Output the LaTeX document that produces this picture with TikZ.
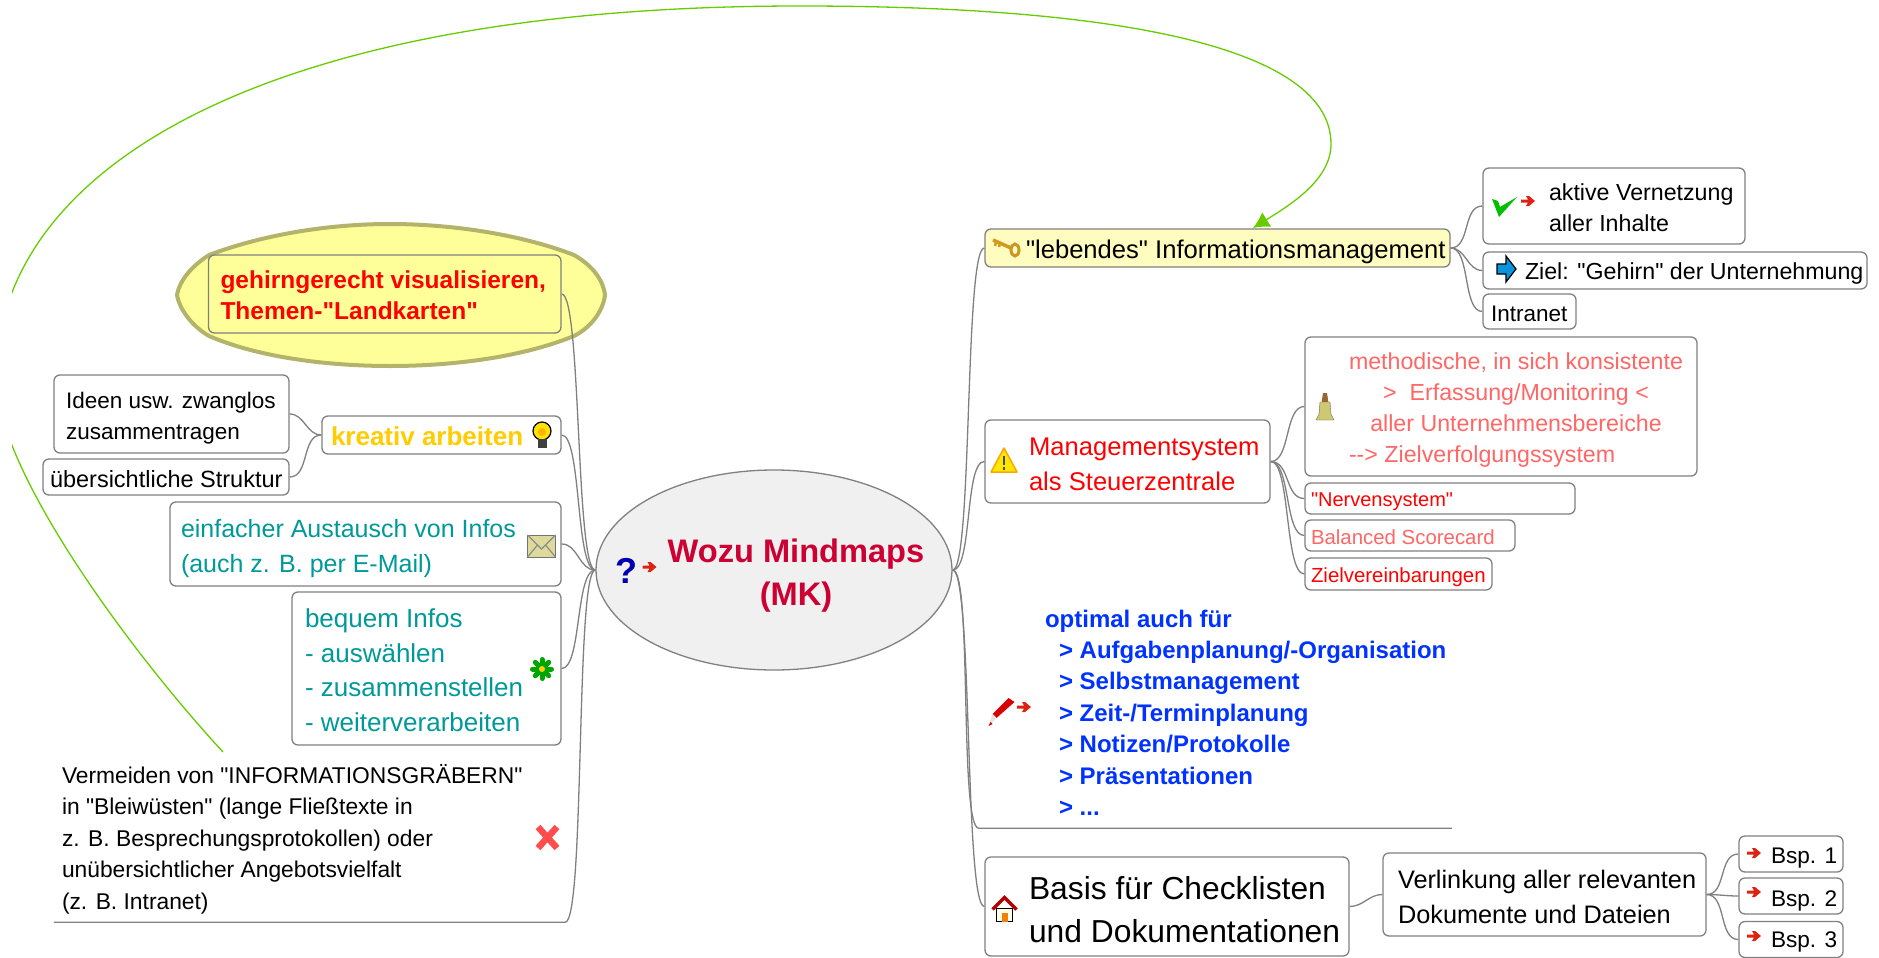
\documentclass[tikz,border=0pt]{standalone}
\usepackage{fontspec}
\setmainfont[Ligatures=TeXOff]{Liberation Sans}
\usetikzlibrary{arrows.meta}
\usetikzlibrary{shapes.geometric}

\definecolor{linegray}{HTML}{808080}
\definecolor{arcgreen}{HTML}{66CC00}
\definecolor{cloudfill}{HTML}{FFFF99}
\definecolor{cloudline}{HTML}{B3B36B}
\definecolor{tealtext}{HTML}{009999}
\definecolor{softred}{HTML}{FF6666}
\definecolor{boldblue}{HTML}{0033FF}
\definecolor{rootred}{HTML}{CC0033}
\definecolor{arrowred}{HTML}{DD2211}
\definecolor{keygold}{HTML}{D09A20}

% fixed width box text: [drop], width, left pad, lines
\newcommand{\boxtext}[4][4]{\makebox[#2pt][l]{\hspace*{#3pt}\raisebox{-#1pt}[\height][\depth]{\begin{tabular}[c]{@{}l@{}}#4\end{tabular}}}}

\tikzset{
  fz/.style 2 args={font=\fontsize{#1}{#2}\selectfont},
  fzb/.style 2 args={font=\fontsize{#1}{#2}\selectfont\bfseries},
  nobx/.style={inner sep=0pt,text=black},
  bx/.style={nobx,draw=linegray,line width=1.3pt,rounded corners=6pt,fill=white},
  branch/.style={draw=linegray,line width=1.3pt},
  bowr/.style={out=0,in=180,max distance=20pt},
  bowl/.style={out=180,in=0,max distance=20pt},
  redarrow/.pic={\fill[arrowred] (-7,-1.5)--(0,-1.5)--(-2,-5)--(1,-5)--(7,0)--(1,5)--(-2,5)--(0,1.5)--(-7,1.5)--cycle;},
  checkicon/.pic={\fill[green!75!black] (-12,-8)--(-6,-6)--(-4,0)--(13,-10)--(-5,10)--cycle;},
  bluearrow/.pic={\draw[fill=cyan!80!blue,line width=1.2pt] (-9,-5)--(0,-5)--(0,-13)--(10,0)--(0,13)--(0,5)--(-9,5)--cycle;},
  keyicon/.pic={
    \draw[color=keygold,line width=3.5pt] (-12,-7)--(6,1);
    \draw[color=keygold,line width=2.5pt] (-9,-5)--(-10,-1) (-5,-4)--(-6,0);
    \draw[color=keygold!80!brown,line width=3pt] (10,3) ellipse (4 and 6);},
  warnicon/.pic={
    \draw[fill=yellow!90!orange,draw=orange!70!yellow,line width=1.5pt,line join=round] (0,-14)--(13,10)--(-13,10)--cycle;
    \draw[line width=2pt,color=black!70] (0,-6)--(0,3) (0,5)--(0,7.5);},
  bellicon/.pic={
    \fill[brown!80!black] (-2,-13)--(2,-13)--(3.5,-3)--(-3.5,-3)--cycle;
    \draw[fill=olive!45!white,draw=black!60] (-5,-4)--(5,-4)--(6,8)--(9,14)--(-9,14)--(-6,8)--cycle;},
  penicon/.pic={
    \fill[red!85!black] (7,-14)--(13,-10)--(-5,6)--(-9,2)--cycle;
    \fill[white!80!gray] (-9,2)--(-5,6)--(-13,14)--cycle;
    \fill[red!85!black] (-11,10)--(-9,12)--(-13,14)--cycle;},
  houseicon/.pic={
    \draw[fill=yellow!10!white,draw=black,line width=.8pt] (-8,0) rectangle (8,13);
    \fill[orange!80!brown] (-3,4) rectangle (3,13);
    \draw[color=red!70!black,line width=3.5pt] (-12,1)--(0,-11)--(12,1);},
  bulbicon/.pic={
    \draw[fill=yellow!85!orange,draw=black,line width=1.2pt] (0,-4) circle (9);
    \fill[orange!60!yellow] (0,-3) circle (4);
    \fill[black!75] (-4.5,4) rectangle (4.5,13);},
  mailicon/.pic={
    \draw[fill=olive!30!white,draw=black!55,line width=1pt] (-14,-11) rectangle (14,11);
    \draw[draw=black!45,line width=1.2pt] (-14,-11)--(0,3)--(14,-11) (-14,11)--(-4,-1) (14,11)--(4,-1);},
  flowericon/.pic={
    \foreach \a in {0,45,...,315} \draw[green!65!black,line width=5pt,line cap=round] (0,0)--(\a:9.5);
    \fill[yellow!70!orange] (0,0) circle (3);},
  crossicon/.pic={
    \draw[color=red!70!white,line width=6.5pt] (-9.5,-10.5)--(9.5,10.5) (9.5,-10.5)--(-9.5,10.5);},
}

\begin{document}
\begin{tikzpicture}[x=1pt,y=-1pt]
	\useasboundingbox (0,0) rectangle (1879,958);

	% yellow cloud
	\draw[fill=cloudfill,draw=cloudline,line width=4pt] (177,295) .. controls (180,278) and (195,264) .. (209,255)
	  .. controls (265,234) and (330,224) .. (390,224) .. controls (450,224) and (520,234) .. (574,255)
	  .. controls (590,264) and (603,278) .. (605,295) .. controls (603,312) and (590,328) .. (574,336)
	  .. controls (520,358) and (450,366) .. (390,366) .. controls (330,366) and (260,358) .. (209,336)
	  .. controls (195,328) and (180,312) .. (177,295) -- cycle;

	% centre
	\node[ellipse,draw=linegray,line width=1.3pt,fill=black!6,inner sep=0pt,minimum width=356pt,minimum height=200pt,fzb={32.6}{43},text=rootred] (root) at (774,570)
	  {\makebox[0pt][c]{\hspace*{44pt}\raisebox{-5pt}[\height][\depth]{\begin{tabular}[c]{@{}c@{}}Wozu Mindmaps\\(MK)\end{tabular}}}};
	\node[nobx,fzb={36}{36},text=blue!70!black] (qmark) at (626,571) {?};

	% left side
	\node[bx,fill=cloudfill,fzb={24.5}{31},text=red,minimum height=78pt] (gehirn) at (384.75,294) {\boxtext{352.5}{12}{gehirngerecht visualisieren,\\Themen-"Landkarten"}};
	\node[bx,fzb={26}{30},text=orange!40!yellow,minimum height=38pt] (kreativ) at (441.5,435) {\boxtext{239}{9}{kreativ arbeiten}};
	\node[bx,fz={22.5}{31},minimum height=78pt] (ideen) at (171.5,414) {\boxtext{235}{12}{Ideen usw. zwanglos\\zusammentragen}};
	\node[bx,fz={23.5}{31},minimum height=36pt] (struktur) at (166,477) {\boxtext{246}{7}{übersichtliche Struktur}};
	\node[bx,fz={25}{35},text=tealtext,minimum height=84pt] (austausch) at (365.5,544) {\boxtext{391}{11}{einfacher Austausch von Infos\\(auch z. B. per E-Mail)}};
	\node[bx,fz={26}{34.5},text=tealtext,minimum height=153pt] (bequem) at (426.5,668.5) {\boxtext{269}{13}{bequem Infos\\- auswählen\\- zusammenstellen\\- weiterverarbeiten}};
	\node[nobx,fz={22.8}{31.4},minimum height=166pt] (graeber) at (309.5,839) {\boxtext[1]{511}{8}{Vermeiden von "INFORMATIONSGRÄBERN"\\in "Bleiwüsten" (lange Fließtexte in\\z. B. Besprechungsprotokollen) oder\\unübersichtlicher Angebotsvielfalt\\(z. B. Intranet)}};

	% right side
	\node[bx,fill=yellow!25!white,fz={25.6}{30},minimum height=38pt] (leben) at (1217.5,248) {\boxtext{465}{41}{"lebendes" Informationsmanagement}};
	\node[bx,fz={23.2}{31},minimum height=76pt] (aktiv) at (1614,206) {\boxtext{262}{66}{aktive Vernetzung\\aller Inhalte}};
	\node[bx,fz={23.2}{31},minimum height=37pt] (gehirnziel) at (1675,270.5) {\boxtext[3]{384}{42}{Ziel: "Gehirn" der Unternehmung}};
	\node[bx,fz={22.5}{31},minimum height=35pt] (intranet) at (1529.5,311.5) {\boxtext{93}{8}{Intranet}};
	\node[bx,fz={25.6}{35},text=red,minimum height=83pt] (steuer) at (1127.5,461.5) {\boxtext{285}{44}{Managementsystem\\als Steuerzentrale}};
	\node[bx,fz={23.2}{31},text=softred,minimum height=139pt] (methode) at (1501,406.5) {\boxtext[3]{392}{44}{methodische, in sich konsistente\\\multicolumn{1}{c}{>\ \ Erfassung/Monitoring <}\\\multicolumn{1}{c}{aller Unternehmensbereiche}\\-{}-> Zielverfolgungssystem}};
	\node[bx,fz={20}{24},text=red,minimum height=31pt] (nerven) at (1440,498.5) {\boxtext[3]{270}{6}{"Nervensystem"}};
	\node[bx,fz={20.4}{24},text=softred,minimum height=31pt] (balanced) at (1410,535.5) {\boxtext{210}{6}{Balanced Scorecard}};
	\node[bx,fz={20.4}{24},text=red,minimum height=32pt] (vereinb) at (1398.5,574) {\boxtext{187}{6}{Zielvereinbarungen}};
	\node[nobx,fzb={24}{31.4},text=boldblue,minimum height=226pt] (optimal) at (1215.5,715) {\boxtext[0]{473}{66}{optimal auch für\\\hspace*{14pt}> Aufgabenplanung/-Organisation\\\hspace*{14pt}> Selbstmanagement\\\hspace*{14pt}> Zeit-/Terminplanung\\\hspace*{14pt}> Notizen/Protokolle\\\hspace*{14pt}> Präsentationen\\\hspace*{14pt}> ...}};
	\node[bx,fz={31.8}{43},minimum height=99pt] (basis) at (1167,906.5) {\boxtext[6]{364}{44}{Basis für Checklisten\\und Dokumentationen}};
	\node[bx,fz={25.3}{35},minimum height=83pt] (verlink) at (1544.5,894.5) {\boxtext{323}{15}{Verlinkung aller relevanten\\Dokumente und Dateien}};
	\node[bx,fz={22.6}{31},minimum height=36pt] (bsp1) at (1791,854) {\boxtext[3]{104}{32}{Bsp. 1}};
	\node[bx,fz={22.6}{31},minimum height=36pt] (bsp2) at (1791,896) {\boxtext{104}{32}{Bsp. 2}};
	\node[bx,fz={22.6}{31},minimum height=36pt] (bsp3) at (1791,939.5) {\boxtext[2]{104}{32}{Bsp. 3}};

	% connectors
	\foreach \n in {gehirn,kreativ,austausch,bequem} \draw[branch] (root.west) to[bowl] (\n.east);
	\draw[branch] (root.west) to[bowl] (graeber.south east) -- (graeber.south west);
	\foreach \n in {ideen,struktur} \draw[branch] (kreativ.west) to[bowl] (\n.east);
	\foreach \n in {leben,steuer,basis} \draw[branch] (root.east) to[bowr] (\n.west);
	\draw[branch] (root.east) to[bowr] (optimal.south west) -- (optimal.south east);
	\foreach \n in {aktiv,gehirnziel,intranet} \draw[branch] (leben.east) to[bowr] (\n.west);
	\foreach \n in {methode,nerven,balanced,vereinb} \draw[branch] (steuer.east) to[bowr] (\n.west);
	\draw[branch] (basis.east) to[bowr] (verlink.west);
	\foreach \n in {bsp1,bsp2,bsp3} \draw[branch] (verlink.east) to[bowr] (\n.west);

	% green relation
	\coordinate (arcstart) at (223,752);
	\coordinate (arcend) at (1253,228);
	\begin{scope}
	\clip (12,0) rectangle (1879,958);
	\draw[arcgreen,line width=1.3pt,-{Latex[length=16pt,width=17pt]}] (arcstart) .. controls (120,640) and (-4,465) .. (-4,378)
	  .. controls (-4,170) and (260,6) .. (800,6) .. controls (1130,6) and (1331,50) .. (1331,144) .. controls (1331,180) and (1290,205) .. (arcend);
	\end{scope}

	% icons
	\pic at (649.5,567) {redarrow};
	\pic at (1005,247) {keyicon};
	\pic at (1504,207) {checkicon};
	\pic at (1528,201) {redarrow};
	\pic at (1506,269) {bluearrow};
	\pic at (1004,462) {warnicon};
	\pic at (1325,406) {bellicon};
	\pic at (1001.5,712) {penicon};
	\pic at (1024,707) {redarrow};
	\pic at (1004.5,908.5) {houseicon};
	\pic at (1754,853) {redarrow};
	\pic at (1754,892) {redarrow};
	\pic at (1754,936) {redarrow};
	\pic at (542,435) {bulbicon};
	\pic at (541.5,546) {mailicon};
	\pic at (542,669) {flowericon};
	\pic at (547.5,837.5) {crossicon};
\end{tikzpicture}
\end{document}
